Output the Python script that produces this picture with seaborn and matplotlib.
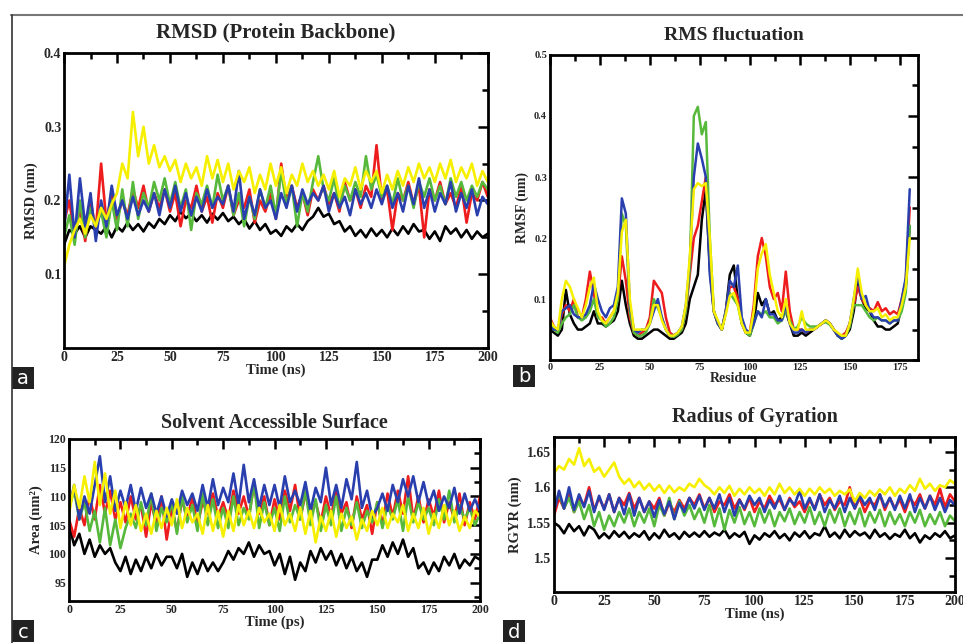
import numpy as np
import pandas as pd
import matplotlib
matplotlib.use("Agg")
import matplotlib.pyplot as plt
import seaborn as sns
from matplotlib.lines import Line2D
from matplotlib.patches import Rectangle
from matplotlib.ticker import MultipleLocator, FormatStrFormatter

# time grid (ns / ps), one sample every 2.5 units
time_grid = np.arange(0, 200.01, 2.5)
residues = np.arange(0, 181, 2)

# ---- panel a: RMSD (nm)
rmsd_black = [
    0.140, 0.160, 0.155, 0.165, 0.150, 0.165, 0.160, 0.155, 0.165, 0.150,
    0.165, 0.158, 0.170, 0.160, 0.168, 0.158, 0.170, 0.163, 0.175, 0.168,
    0.180, 0.172, 0.185, 0.176, 0.182, 0.172, 0.180, 0.170, 0.182, 0.174,
    0.183, 0.172, 0.178, 0.168, 0.175, 0.162, 0.172, 0.160, 0.168, 0.155,
    0.160, 0.152, 0.165, 0.158, 0.168, 0.160, 0.172, 0.178, 0.190, 0.178,
    0.182, 0.168, 0.172, 0.158, 0.165, 0.152, 0.160, 0.150, 0.162, 0.152,
    0.160, 0.150, 0.162, 0.153, 0.165, 0.155, 0.168, 0.158, 0.160, 0.148,
    0.158, 0.145, 0.165, 0.155, 0.162, 0.150, 0.160, 0.148, 0.158, 0.150,
    0.155,
]
rmsd_red = [
    0.170, 0.200, 0.150, 0.190, 0.145, 0.200, 0.160, 0.250, 0.170, 0.210,
    0.175, 0.200, 0.180, 0.215, 0.190, 0.220, 0.185, 0.210, 0.190, 0.215,
    0.185, 0.210, 0.165, 0.200, 0.190, 0.220, 0.185, 0.205, 0.170, 0.210,
    0.190, 0.220, 0.180, 0.200, 0.190, 0.215, 0.170, 0.200, 0.185, 0.210,
    0.175, 0.250, 0.200, 0.220, 0.190, 0.210, 0.180, 0.215, 0.200, 0.220,
    0.195, 0.210, 0.185, 0.225, 0.200, 0.215, 0.190, 0.220, 0.205, 0.275,
    0.200, 0.215, 0.160, 0.210, 0.200, 0.225, 0.195, 0.220, 0.150, 0.215,
    0.200, 0.225, 0.195, 0.210, 0.190, 0.220, 0.170, 0.210, 0.200, 0.225,
    0.205,
]
rmsd_green = [
    0.150, 0.180, 0.140, 0.200, 0.150, 0.190, 0.165, 0.185, 0.150, 0.200,
    0.160, 0.215, 0.165, 0.225, 0.175, 0.210, 0.190, 0.225, 0.200, 0.230,
    0.195, 0.225, 0.190, 0.215, 0.160, 0.210, 0.195, 0.220, 0.190, 0.235,
    0.200, 0.220, 0.180, 0.210, 0.165, 0.205, 0.175, 0.215, 0.190, 0.220,
    0.180, 0.240, 0.195, 0.220, 0.165, 0.210, 0.185, 0.225, 0.260, 0.215,
    0.200, 0.230, 0.190, 0.220, 0.200, 0.225, 0.205, 0.260, 0.215, 0.235,
    0.205, 0.220, 0.195, 0.230, 0.200, 0.220, 0.190, 0.225, 0.205, 0.230,
    0.200, 0.220, 0.195, 0.230, 0.205, 0.225, 0.200, 0.220, 0.205, 0.225,
    0.215,
]
rmsd_blue = [
    0.160, 0.235, 0.150, 0.230, 0.165, 0.210, 0.145, 0.200, 0.165, 0.220,
    0.180, 0.200, 0.175, 0.205, 0.180, 0.200, 0.185, 0.210, 0.180, 0.215,
    0.190, 0.220, 0.185, 0.210, 0.180, 0.205, 0.185, 0.215, 0.190, 0.205,
    0.195, 0.220, 0.185, 0.240, 0.175, 0.205, 0.180, 0.215, 0.190, 0.200,
    0.175, 0.210, 0.190, 0.220, 0.185, 0.215, 0.195, 0.210, 0.200, 0.220,
    0.185, 0.210, 0.190, 0.205, 0.180, 0.215, 0.195, 0.210, 0.190, 0.215,
    0.195, 0.220, 0.190, 0.210, 0.185, 0.220, 0.195, 0.230, 0.190, 0.215,
    0.185, 0.210, 0.195, 0.225, 0.185, 0.210, 0.190, 0.215, 0.180, 0.205,
    0.195,
]
rmsd_yellow = [
    0.110, 0.140, 0.160, 0.175, 0.155, 0.180, 0.165, 0.190, 0.175, 0.195,
    0.210, 0.250, 0.230, 0.320, 0.260, 0.300, 0.250, 0.275, 0.245, 0.260,
    0.240, 0.255, 0.225, 0.250, 0.230, 0.245, 0.220, 0.260, 0.230, 0.255,
    0.225, 0.250, 0.215, 0.240, 0.225, 0.245, 0.210, 0.235, 0.215, 0.250,
    0.220, 0.245, 0.210, 0.235, 0.220, 0.250, 0.225, 0.240, 0.220, 0.235,
    0.215, 0.240, 0.205, 0.230, 0.220, 0.245, 0.215, 0.240, 0.225, 0.240,
    0.210, 0.235, 0.215, 0.240, 0.220, 0.245, 0.225, 0.250, 0.230, 0.245,
    0.225, 0.250, 0.230, 0.255, 0.225, 0.245, 0.230, 0.250, 0.220, 0.240,
    0.225,
]

# ---- panel b: RMSF (nm) per residue
rmsf_black = [
    0.050, 0.045, 0.040, 0.050, 0.115, 0.075, 0.060, 0.050, 0.050, 0.055,
    0.060, 0.080, 0.060, 0.060, 0.055, 0.060, 0.065, 0.080, 0.130, 0.090,
    0.060, 0.040, 0.035, 0.035, 0.040, 0.045, 0.050, 0.050, 0.045, 0.040,
    0.035, 0.035, 0.040, 0.045, 0.060, 0.100, 0.120, 0.140, 0.230, 0.280,
    0.150, 0.080, 0.060, 0.050, 0.080, 0.140, 0.155, 0.100, 0.060, 0.045,
    0.040, 0.060, 0.110, 0.090, 0.100, 0.075, 0.080, 0.065, 0.070, 0.080,
    0.060, 0.040, 0.040, 0.045, 0.040, 0.045, 0.050, 0.055, 0.060, 0.065,
    0.060, 0.050, 0.040, 0.035, 0.040, 0.050, 0.080, 0.130, 0.100, 0.085,
    0.080, 0.065, 0.055, 0.055, 0.050, 0.050, 0.055, 0.060, 0.090, 0.120,
    0.220,
]
rmsf_red = [
    0.070, 0.055, 0.050, 0.075, 0.090, 0.080, 0.100, 0.070, 0.070, 0.100,
    0.145, 0.110, 0.070, 0.070, 0.060, 0.070, 0.080, 0.100, 0.170, 0.130,
    0.070, 0.045, 0.040, 0.045, 0.050, 0.070, 0.130, 0.120, 0.110, 0.070,
    0.045, 0.040, 0.045, 0.050, 0.080, 0.140, 0.200, 0.220, 0.260, 0.300,
    0.170, 0.080, 0.060, 0.050, 0.080, 0.120, 0.120, 0.100, 0.060, 0.045,
    0.045, 0.090, 0.170, 0.200, 0.170, 0.120, 0.100, 0.110, 0.080, 0.145,
    0.080, 0.050, 0.050, 0.050, 0.045, 0.050, 0.050, 0.055, 0.060, 0.065,
    0.060, 0.050, 0.040, 0.040, 0.045, 0.060, 0.090, 0.120, 0.100, 0.090,
    0.085, 0.080, 0.095, 0.080, 0.085, 0.075, 0.080, 0.075, 0.100, 0.130,
    0.250,
]
rmsf_green = [
    0.060, 0.050, 0.045, 0.060, 0.070, 0.075, 0.090, 0.070, 0.065, 0.070,
    0.080, 0.100, 0.070, 0.065, 0.055, 0.060, 0.070, 0.100, 0.240, 0.220,
    0.080, 0.045, 0.040, 0.040, 0.045, 0.060, 0.100, 0.085, 0.070, 0.050,
    0.040, 0.038, 0.042, 0.050, 0.080, 0.150, 0.400, 0.415, 0.370, 0.390,
    0.200, 0.080, 0.060, 0.050, 0.080, 0.110, 0.100, 0.090, 0.060, 0.045,
    0.040, 0.060, 0.080, 0.075, 0.080, 0.070, 0.070, 0.060, 0.065, 0.080,
    0.065, 0.050, 0.055, 0.070, 0.060, 0.055, 0.055, 0.055, 0.060, 0.062,
    0.058, 0.050, 0.040, 0.035, 0.040, 0.055, 0.090, 0.090, 0.090, 0.080,
    0.070, 0.065, 0.070, 0.065, 0.065, 0.060, 0.065, 0.065, 0.080, 0.110,
    0.220,
]
rmsf_blue = [
    0.055, 0.050, 0.050, 0.080, 0.085, 0.090, 0.075, 0.070, 0.070, 0.075,
    0.090, 0.125, 0.100, 0.080, 0.070, 0.085, 0.090, 0.120, 0.265, 0.240,
    0.090, 0.050, 0.045, 0.050, 0.050, 0.060, 0.080, 0.100, 0.070, 0.050,
    0.040, 0.040, 0.045, 0.055, 0.090, 0.160, 0.300, 0.355, 0.330, 0.300,
    0.140, 0.080, 0.060, 0.050, 0.080, 0.130, 0.120, 0.155, 0.070, 0.050,
    0.045, 0.060, 0.080, 0.070, 0.100, 0.075, 0.075, 0.065, 0.065, 0.090,
    0.060, 0.045, 0.045, 0.050, 0.045, 0.050, 0.050, 0.055, 0.060, 0.065,
    0.060, 0.050, 0.040, 0.035, 0.040, 0.060, 0.100, 0.140, 0.100, 0.105,
    0.080, 0.070, 0.070, 0.065, 0.065, 0.060, 0.065, 0.065, 0.100, 0.135,
    0.280,
]
rmsf_yellow = [
    0.065, 0.055, 0.050, 0.100, 0.130, 0.120, 0.100, 0.085, 0.070, 0.090,
    0.120, 0.135, 0.080, 0.065, 0.060, 0.070, 0.080, 0.110, 0.210, 0.230,
    0.100, 0.050, 0.050, 0.050, 0.050, 0.060, 0.090, 0.090, 0.065, 0.050,
    0.040, 0.040, 0.045, 0.055, 0.090, 0.170, 0.280, 0.290, 0.285, 0.290,
    0.200, 0.080, 0.065, 0.050, 0.075, 0.105, 0.110, 0.090, 0.060, 0.045,
    0.045, 0.080, 0.150, 0.175, 0.190, 0.140, 0.110, 0.080, 0.070, 0.100,
    0.060, 0.050, 0.050, 0.080, 0.050, 0.050, 0.050, 0.055, 0.060, 0.065,
    0.060, 0.050, 0.045, 0.040, 0.040, 0.060, 0.100, 0.150, 0.110, 0.090,
    0.080, 0.080, 0.085, 0.070, 0.075, 0.065, 0.070, 0.070, 0.090, 0.120,
    0.200,
]

# ---- panel c: SASA (nm^2)
sasa_black = [
    105.0, 101.5, 103.5, 100.0, 102.5, 99.5, 101.5, 100.0, 101.0, 98.5,
    97.0, 99.5, 96.5, 99.0, 97.0, 99.5, 97.5, 100.0, 98.0, 99.5,
    99.5, 97.5, 100.0, 96.0, 98.5, 96.5, 99.0, 97.0, 98.5, 97.0,
    98.5, 100.5, 99.0, 101.0, 100.0, 102.0, 99.5, 101.5, 100.0, 100.5,
    98.0, 100.0, 96.5, 99.5, 95.5, 98.5, 97.0, 100.5, 98.5, 101.0,
    99.0, 100.5, 98.0, 100.0, 97.5, 99.5, 97.0, 98.5, 96.0, 99.0,
    99.0, 101.5, 99.5, 102.0, 100.0, 102.5, 99.5, 101.0, 97.5, 98.5,
    96.5, 98.5, 97.0, 99.5, 98.0, 100.0, 97.5, 99.0, 98.0, 99.5,
    99.0,
]
sasa_red = [
    106.0, 103.0, 108.0, 105.0, 110.0, 106.0, 112.0, 107.0, 111.0, 106.0,
    109.0, 105.5, 110.0, 106.0, 108.5, 103.0, 109.0, 105.0, 110.0, 102.5,
    108.0, 104.0, 109.5, 106.0, 110.0, 105.0, 109.0, 107.0, 110.5, 106.5,
    109.0, 106.0, 111.0, 107.0, 110.0, 106.5, 112.0, 107.0, 110.0, 105.0,
    109.5, 106.0, 111.0, 107.5, 112.0, 106.0, 110.5, 107.0, 109.0, 105.5,
    110.0, 106.5, 111.0, 107.0, 109.0, 104.5, 110.0, 106.0, 108.5, 103.5,
    109.0, 105.0, 110.5, 106.5, 111.0, 107.0, 113.5, 106.0, 110.0, 105.5,
    109.5, 106.5, 111.0, 105.5, 109.0, 106.0, 110.5, 105.0, 109.0, 106.0,
    110.0,
]
sasa_green = [
    108.0, 111.0, 106.0, 109.0, 104.0, 107.5, 102.0, 108.0, 101.5, 106.0,
    101.0, 104.5, 107.0, 104.5, 109.0, 105.0, 110.5, 104.0, 108.0, 105.5,
    109.0, 103.5, 110.0, 105.5, 108.5, 104.0, 110.5, 105.0, 109.5, 104.5,
    108.0, 104.5, 110.0, 105.0, 108.0, 106.0, 112.5, 104.5, 109.0, 105.0,
    108.0, 104.0, 110.0, 105.5, 108.5, 106.0, 111.0, 105.0, 109.5, 104.0,
    108.5, 105.0, 110.0, 104.0, 108.0, 105.0, 109.0, 104.5, 107.5, 105.5,
    109.0, 104.5, 108.5, 106.0, 109.5, 104.0, 110.0, 105.5, 109.0, 106.0,
    108.0, 105.0, 109.5, 106.0, 111.0, 105.5, 108.5, 106.0, 108.0, 105.0,
    107.0,
]
sasa_blue = [
    108.0, 112.0, 106.0, 110.0, 107.0, 112.0, 117.0, 109.0, 113.5, 107.5,
    111.0, 108.0, 112.0, 107.5, 111.5, 108.0, 110.5, 107.0, 110.0, 106.5,
    109.5, 107.0, 111.0, 108.5, 110.5, 107.5, 112.0, 108.0, 113.0, 108.5,
    111.5, 109.0, 114.0, 108.5, 115.5, 109.0, 113.0, 108.0, 112.0, 108.5,
    112.0, 108.0, 113.5, 109.0, 111.0, 108.5, 112.5, 107.5, 111.5, 109.0,
    115.0, 108.5, 112.0, 108.0, 113.0, 109.5, 116.0, 108.0, 111.0, 106.5,
    108.0, 110.5, 107.5, 112.0, 109.0, 113.0, 110.0, 113.5, 109.0, 112.5,
    108.5, 111.0, 107.5, 110.0, 108.0, 111.5, 107.0, 110.5, 107.5, 109.5,
    107.5,
]
sasa_yellow = [
    107.0, 112.0, 108.0, 113.5, 109.0, 116.0, 108.5, 114.0, 107.0, 111.0,
    104.5, 109.0, 105.0, 108.5, 104.0, 107.0, 103.5, 107.5, 104.5, 108.0,
    105.0, 109.5, 104.5, 108.0, 105.5, 107.0, 103.5, 108.5, 104.0, 107.5,
    103.0, 107.5, 104.0, 108.5, 105.0, 107.5, 104.5, 108.0, 105.5, 107.0,
    104.0, 108.5, 105.0, 107.0, 104.0, 108.0, 103.5, 107.5, 102.0, 106.5,
    104.0, 107.5, 103.0, 107.0, 104.5, 106.5, 102.5, 106.0, 104.0, 107.5,
    105.0, 108.0, 104.5, 107.0, 105.5, 108.5, 104.0, 107.0, 104.5, 108.0,
    103.5, 107.0, 104.5, 108.5, 105.0, 107.5, 104.0, 106.5, 104.5, 107.5,
    106.5,
]

# ---- panel d: radius of gyration (nm)
rg_black = [
    1.550, 1.545, 1.535, 1.548, 1.538, 1.545, 1.532, 1.545, 1.540, 1.528,
    1.535, 1.528, 1.538, 1.530, 1.537, 1.528, 1.535, 1.530, 1.538, 1.526,
    1.535, 1.528, 1.540, 1.530, 1.535, 1.527, 1.537, 1.530, 1.536, 1.530,
    1.538, 1.530, 1.536, 1.532, 1.540, 1.528, 1.535, 1.530, 1.537, 1.520,
    1.532, 1.526, 1.535, 1.530, 1.538, 1.528, 1.534, 1.525, 1.536, 1.530,
    1.538, 1.528, 1.535, 1.532, 1.545, 1.530, 1.536, 1.528, 1.540, 1.530,
    1.538, 1.532, 1.536, 1.528, 1.540, 1.530, 1.535, 1.527, 1.534, 1.530,
    1.540, 1.528, 1.535, 1.522, 1.532, 1.527, 1.535, 1.530, 1.538, 1.528,
    1.532,
]
rg_red = [
    1.560, 1.585, 1.570, 1.590, 1.565, 1.585, 1.575, 1.600, 1.568, 1.585,
    1.570, 1.590, 1.565, 1.585, 1.575, 1.592, 1.570, 1.585, 1.565, 1.580,
    1.570, 1.585, 1.560, 1.578, 1.565, 1.582, 1.570, 1.585, 1.575, 1.590,
    1.570, 1.585, 1.565, 1.580, 1.575, 1.590, 1.570, 1.583, 1.568, 1.585,
    1.565, 1.580, 1.570, 1.588, 1.575, 1.583, 1.568, 1.585, 1.572, 1.580,
    1.565, 1.582, 1.570, 1.590, 1.575, 1.585, 1.568, 1.580, 1.575, 1.600,
    1.570, 1.585, 1.565, 1.580, 1.575, 1.590, 1.568, 1.585, 1.570, 1.583,
    1.565, 1.585, 1.575, 1.590, 1.570, 1.588, 1.575, 1.598, 1.572, 1.590,
    1.580,
]
rg_green = [
    1.575, 1.590, 1.570, 1.585, 1.565, 1.580, 1.555, 1.575, 1.545, 1.565,
    1.540, 1.560, 1.545, 1.565, 1.550, 1.570, 1.545, 1.565, 1.550, 1.570,
    1.545, 1.575, 1.560, 1.585, 1.555, 1.580, 1.560, 1.575, 1.555, 1.570,
    1.550, 1.575, 1.545, 1.570, 1.540, 1.568, 1.550, 1.572, 1.548, 1.565,
    1.545, 1.570, 1.550, 1.568, 1.545, 1.565, 1.552, 1.570, 1.548, 1.565,
    1.550, 1.572, 1.548, 1.565, 1.545, 1.568, 1.550, 1.570, 1.545, 1.565,
    1.548, 1.570, 1.545, 1.565, 1.550, 1.568, 1.545, 1.565, 1.548, 1.562,
    1.545, 1.565, 1.550, 1.568, 1.545, 1.562, 1.548, 1.565, 1.545, 1.560,
    1.552,
]
rg_blue = [
    1.565, 1.595, 1.570, 1.600, 1.568, 1.590, 1.572, 1.595, 1.565, 1.588,
    1.568, 1.590, 1.565, 1.585, 1.562, 1.590, 1.560, 1.585, 1.565, 1.580,
    1.558, 1.582, 1.562, 1.580, 1.555, 1.578, 1.565, 1.585, 1.570, 1.588,
    1.568, 1.585, 1.570, 1.590, 1.565, 1.585, 1.560, 1.582, 1.570, 1.588,
    1.575, 1.585, 1.565, 1.582, 1.570, 1.588, 1.568, 1.583, 1.575, 1.595,
    1.570, 1.585, 1.568, 1.590, 1.565, 1.582, 1.570, 1.588, 1.565, 1.585,
    1.570, 1.588, 1.575, 1.585, 1.568, 1.590, 1.572, 1.585, 1.568, 1.588,
    1.570, 1.590, 1.565, 1.585, 1.570, 1.588, 1.568, 1.585, 1.565, 1.582,
    1.575,
]
rg_yellow = [
    1.620, 1.630, 1.625, 1.640, 1.632, 1.655, 1.630, 1.640, 1.622, 1.628,
    1.615, 1.625, 1.635, 1.615, 1.605, 1.612, 1.600, 1.608, 1.597, 1.605,
    1.595, 1.603, 1.592, 1.602, 1.593, 1.600, 1.595, 1.605, 1.600, 1.612,
    1.603, 1.598, 1.590, 1.600, 1.592, 1.602, 1.588, 1.598, 1.590, 1.600,
    1.592, 1.598, 1.588, 1.600, 1.590, 1.605, 1.592, 1.600, 1.590, 1.598,
    1.588, 1.598, 1.590, 1.600, 1.592, 1.598, 1.588, 1.595, 1.590, 1.597,
    1.580, 1.592, 1.585, 1.595, 1.588, 1.597, 1.590, 1.600, 1.588, 1.598,
    1.592, 1.603, 1.595, 1.612, 1.598, 1.605, 1.595, 1.603, 1.600, 1.610,
    1.605,
]

SERIES_COLORS = ["#000000", "#ee1c1c", "#56b93c", "#2a3fae", "#f6f000"]

sns.set_theme(style="white")
plt.rcParams["font.family"] = ["Liberation Serif", "DejaVu Serif"]
plt.rcParams["font.weight"] = "bold"


def draw_panel(ax, x, series, lw):
    for values, color in zip(series, SERIES_COLORS):
        df = pd.DataFrame({"x": x, "y": values})
        sns.lineplot(data=df, x="x", y="y", ax=ax, color=color, lw=lw,
                     estimator=None, sort=False, legend=False)


def style_axes(ax, title, xlabel, ylabel, xlim, ylim, xmaj, ymaj, yfmt,
               tick_size, label_size, title_size, title_pad):
    ax.set_xlim(*xlim)
    ax.set_ylim(*ylim)
    ax.xaxis.set_major_locator(MultipleLocator(xmaj))
    ax.xaxis.set_minor_locator(MultipleLocator(xmaj / 2))
    ax.yaxis.set_major_locator(MultipleLocator(ymaj))
    ax.yaxis.set_minor_locator(MultipleLocator(ymaj / 2))
    ax.yaxis.set_major_formatter(FormatStrFormatter(yfmt))
    ax.tick_params(which="both", direction="in", top=True, right=True,
                   labelsize=tick_size, width=1.8, color="black")
    ax.tick_params(which="major", length=7, pad=2)
    ax.tick_params(which="minor", length=4)
    for sp in ax.spines.values():
        sp.set_linewidth(2)
        sp.set_color("black")
    ax.set_xlabel(xlabel, fontsize=label_size, fontweight="bold", labelpad=0)
    ax.set_ylabel(ylabel, fontsize=label_size, fontweight="bold", labelpad=4)
    ax.set_title(title, fontsize=title_size, fontweight="bold", pad=title_pad)


fig = plt.figure(figsize=(9.63, 6.43), dpi=100)

ax_a = fig.add_axes([0.0665, 0.4588, 0.440, 0.4588])
ax_b = fig.add_axes([0.571, 0.440, 0.382, 0.4745])
ax_c = fig.add_axes([0.0717, 0.0653, 0.4268, 0.252])
ax_d = fig.add_axes([0.5753, 0.0793, 0.4164, 0.241])

draw_panel(ax_a, time_grid, [rmsd_black, rmsd_red, rmsd_green, rmsd_blue, rmsd_yellow], 1.9)
draw_panel(ax_b, residues, [rmsf_black, rmsf_red, rmsf_green, rmsf_blue, rmsf_yellow], 1.8)
draw_panel(ax_c, time_grid, [sasa_black, sasa_red, sasa_green, sasa_blue, sasa_yellow], 1.9)
draw_panel(ax_d, time_grid, [rg_black, rg_red, rg_green, rg_blue, rg_yellow], 1.9)

style_axes(ax_a, "RMSD (Protein Backbone)", "Time (ns)", "RMSD (nm)",
           (0, 200), (0, 0.4), 25, 0.1, "%g", 10, 10.5, 15, 11)
ax_a.set_yticks([0.1, 0.2, 0.3, 0.4])
style_axes(ax_b, "RMS fluctuation", "Residue", "RMSF (nm)",
           (0, 184), (0, 0.5), 25, 0.1, "%g", 7.5, 10, 14, 11)
ax_b.set_yticks([0.1, 0.2, 0.3, 0.4, 0.5])
style_axes(ax_c, "Solvent Accessible Surface", "Time (ps)", "Area (nm²)",
           (0, 200), (91.8, 120), 25, 5, "%g", 8.5, 10.5, 14.5, 8)
ax_c.yaxis.set_minor_locator(MultipleLocator(2.5))
style_axes(ax_d, "Radius of Gyration", "Time (ns)", "RGYR (nm)",
           (0, 200), (1.452, 1.671), 25, 0.05, "%g", 10, 10.5, 14.5, 11)
ax_d.yaxis.set_minor_locator(MultipleLocator(0.025))

# figure frame lines
fig.add_artist(Line2D([11 / 963, 1.0], [1 - 15 / 643] * 2, color="#777777", lw=1.5))
fig.add_artist(Line2D([12 / 963] * 2, [0, 1 - 15 / 643], color="#333333", lw=1.2))

# panel letter boxes
for letter, px, py in [("a", 12, 367), ("b", 513, 365), ("c", 12, 620), ("d", 503, 620)]:
    x0, y1 = px / 963, 1 - (py + 22) / 643
    fig.add_artist(Rectangle((x0, y1), 22 / 963, 22 / 643, transform=fig.transFigure,
                             facecolor="#222222", edgecolor="none"))
    fig.text(x0 + 11 / 963, y1 + 10 / 643, letter, color="white", fontsize=14,
             family="DejaVu Sans", fontweight="normal", ha="center", va="center")

fig.savefig("out.png", dpi=100)
